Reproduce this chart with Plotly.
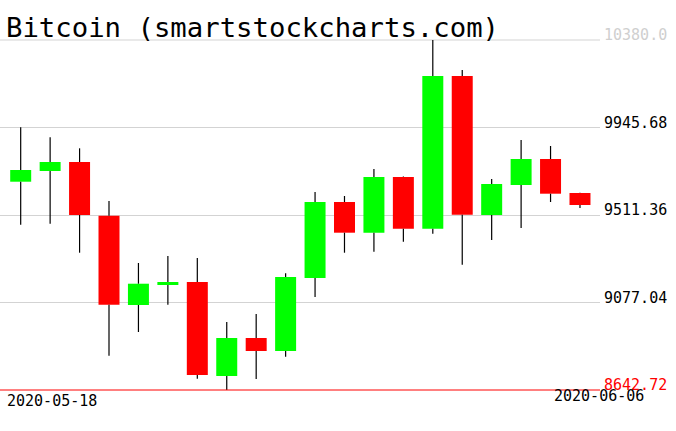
import plotly.graph_objects as go
import pandas as pd

# ---- data ----
dates = ["2020-05-18", "2020-05-19", "2020-05-20", "2020-05-21", "2020-05-22",
         "2020-05-23", "2020-05-24", "2020-05-25", "2020-05-26", "2020-05-27",
         "2020-05-28", "2020-05-29", "2020-05-30", "2020-05-31", "2020-06-01",
         "2020-06-02", "2020-06-03", "2020-06-04", "2020-06-05", "2020-06-06"]
opens = [9676.6, 9729.8, 9774.4, 9507.9, 9064.6, 9163.9, 9178.8, 8712.2, 8900.8, 8836.3,
         9198.6, 9575.9, 9423.5, 9700.0, 9443.3, 10201.3, 9511.4, 9660.3, 9789.3, 9620.5]
highs = [9946.7, 9897.0, 9842.4, 9580.8, 9273.1, 9307.8, 9297.9, 8980.2, 9019.9, 9222.0,
         9625.5, 9605.7, 9739.7, 9702.0, 10380.0, 10231.1, 9690.0, 9883.6, 9853.8, 9622.0]
lows = [9463.2, 9468.2, 9324.2, 8813.0, 8930.6, 9066.1, 8698.8, 8642.72, 8697.3, 8808.0,
        9104.3, 9324.2, 9329.2, 9378.8, 9418.5, 9264.7, 9387.3, 9446.8, 9575.9, 9546.1]
closes = [9734.7, 9774.4, 9511.4, 9066.1, 9170.3, 9178.8, 8717.2, 8900.8, 8836.3, 9203.6,
          9575.9, 9423.5, 9700.0, 9443.3, 10201.3, 9512.8, 9665.2, 9789.3, 9617.1, 9561.0]

title_text = "Bitcoin (smartstockcharts.com)"
y_tickvals = [8642.72, 9077.04, 9511.36, 9945.68, 10380.0]
y_ticklabels = ["8642.72", "9077.04", "9511.36", "9945.68", "10380.0"]
y_tickcolors = ["#ff0000", "#000000", "#000000", "#000000", "#cfcfcf"]
x_labels = ["2020-05-18", "2020-06-06"]

UP = "#00ff00"
DOWN = "#ff0000"
GRID = "#d3d3d3"
MONO = "DejaVu Sans Mono"
DAY_MS = 86400000

dts = pd.to_datetime(dates)
y_lo, y_hi = min(lows), max(highs)

# wick segments (above and below the body, so bodies stay on top)
wx, wy = [], []
for d, o, h, l, c in zip(dts, opens, highs, lows, closes):
    top, bot = max(o, c), min(o, c)
    wx += [d, d, None, d, d, None]
    wy += [h, top, None, bot, l, None]

fig = go.Figure()
fig.add_trace(go.Scatter(x=wx, y=wy, mode="lines",
                         line=dict(color="black", width=1.2),
                         hoverinfo="skip", showlegend=False))
fig.add_trace(go.Bar(
    x=dts,
    base=[min(o, c) for o, c in zip(opens, closes)],
    y=[abs(c - o) for o, c in zip(opens, closes)],
    width=0.713 * DAY_MS,
    marker=dict(color=[UP if c >= o else DOWN for o, c in zip(opens, closes)],
                line=dict(width=0)),
    showlegend=False,
))

ticktext = [f'<span style="color:{col}">{t}</span>'
            for t, col in zip(y_ticklabels, y_tickcolors)]


def to_paper(v):
    return (v - y_lo) / (y_hi - y_lo)


fig.update_layout(
    width=676, height=431,
    margin=dict(l=0, r=76, t=40, b=41, pad=0),
    paper_bgcolor="white", plot_bgcolor="white",
    showlegend=False,
    title=dict(text=title_text, x=6 / 676, xanchor="left", xref="container",
               y=1 - 27 / 431, yanchor="middle", yref="container",
               font=dict(family=MONO, size=27.3, color="#000000")),
    xaxis=dict(type="date",
               range=[dts[0] - pd.Timedelta(days=0.703), dts[-1] + pd.Timedelta(days=0.68)],
               showgrid=False, showticklabels=False, zeroline=False, showline=False,
               ticks=""),
    yaxis=dict(side="right", range=[y_lo, y_hi],
               tickmode="array", tickvals=y_tickvals, ticktext=ticktext,
               showgrid=True, gridcolor=GRID, gridwidth=1,
               zeroline=False, showline=False, ticks="",
               ticklabelposition="outside", ticklabelshift=-5, ticklabelstandoff=3,
               tickfont=dict(family=MONO, size=15, color="#000000")),
    shapes=[
        dict(type="line", xref="paper", x0=0, x1=1, yref="paper",
             y0=to_paper(y_tickvals[-1]), y1=to_paper(y_tickvals[-1]),
             line=dict(color=GRID, width=1), layer="below"),
        dict(type="line", xref="paper", x0=0, x1=1, yref="paper",
             y0=to_paper(y_tickvals[0]), y1=to_paper(y_tickvals[0]),
             line=dict(color="#ff0000", width=1)),
    ],
    annotations=[
        dict(text=x_labels[0], xref="paper", x=5 / 600, xanchor="left",
             yref="paper", y=-11 / 350, yanchor="middle", showarrow=False,
             font=dict(family=MONO, size=15, color="#000000")),
        dict(text=x_labels[1], xref="paper", x=646 / 600, xanchor="right",
             yref="paper", y=-6 / 350, yanchor="middle", showarrow=False,
             font=dict(family=MONO, size=15, color="#000000")),
    ],
)

fig.write_html("out.html", config={"displayModeBar": False},
               post_script="document.body.style.margin='0';document.body.style.padding='0';")
